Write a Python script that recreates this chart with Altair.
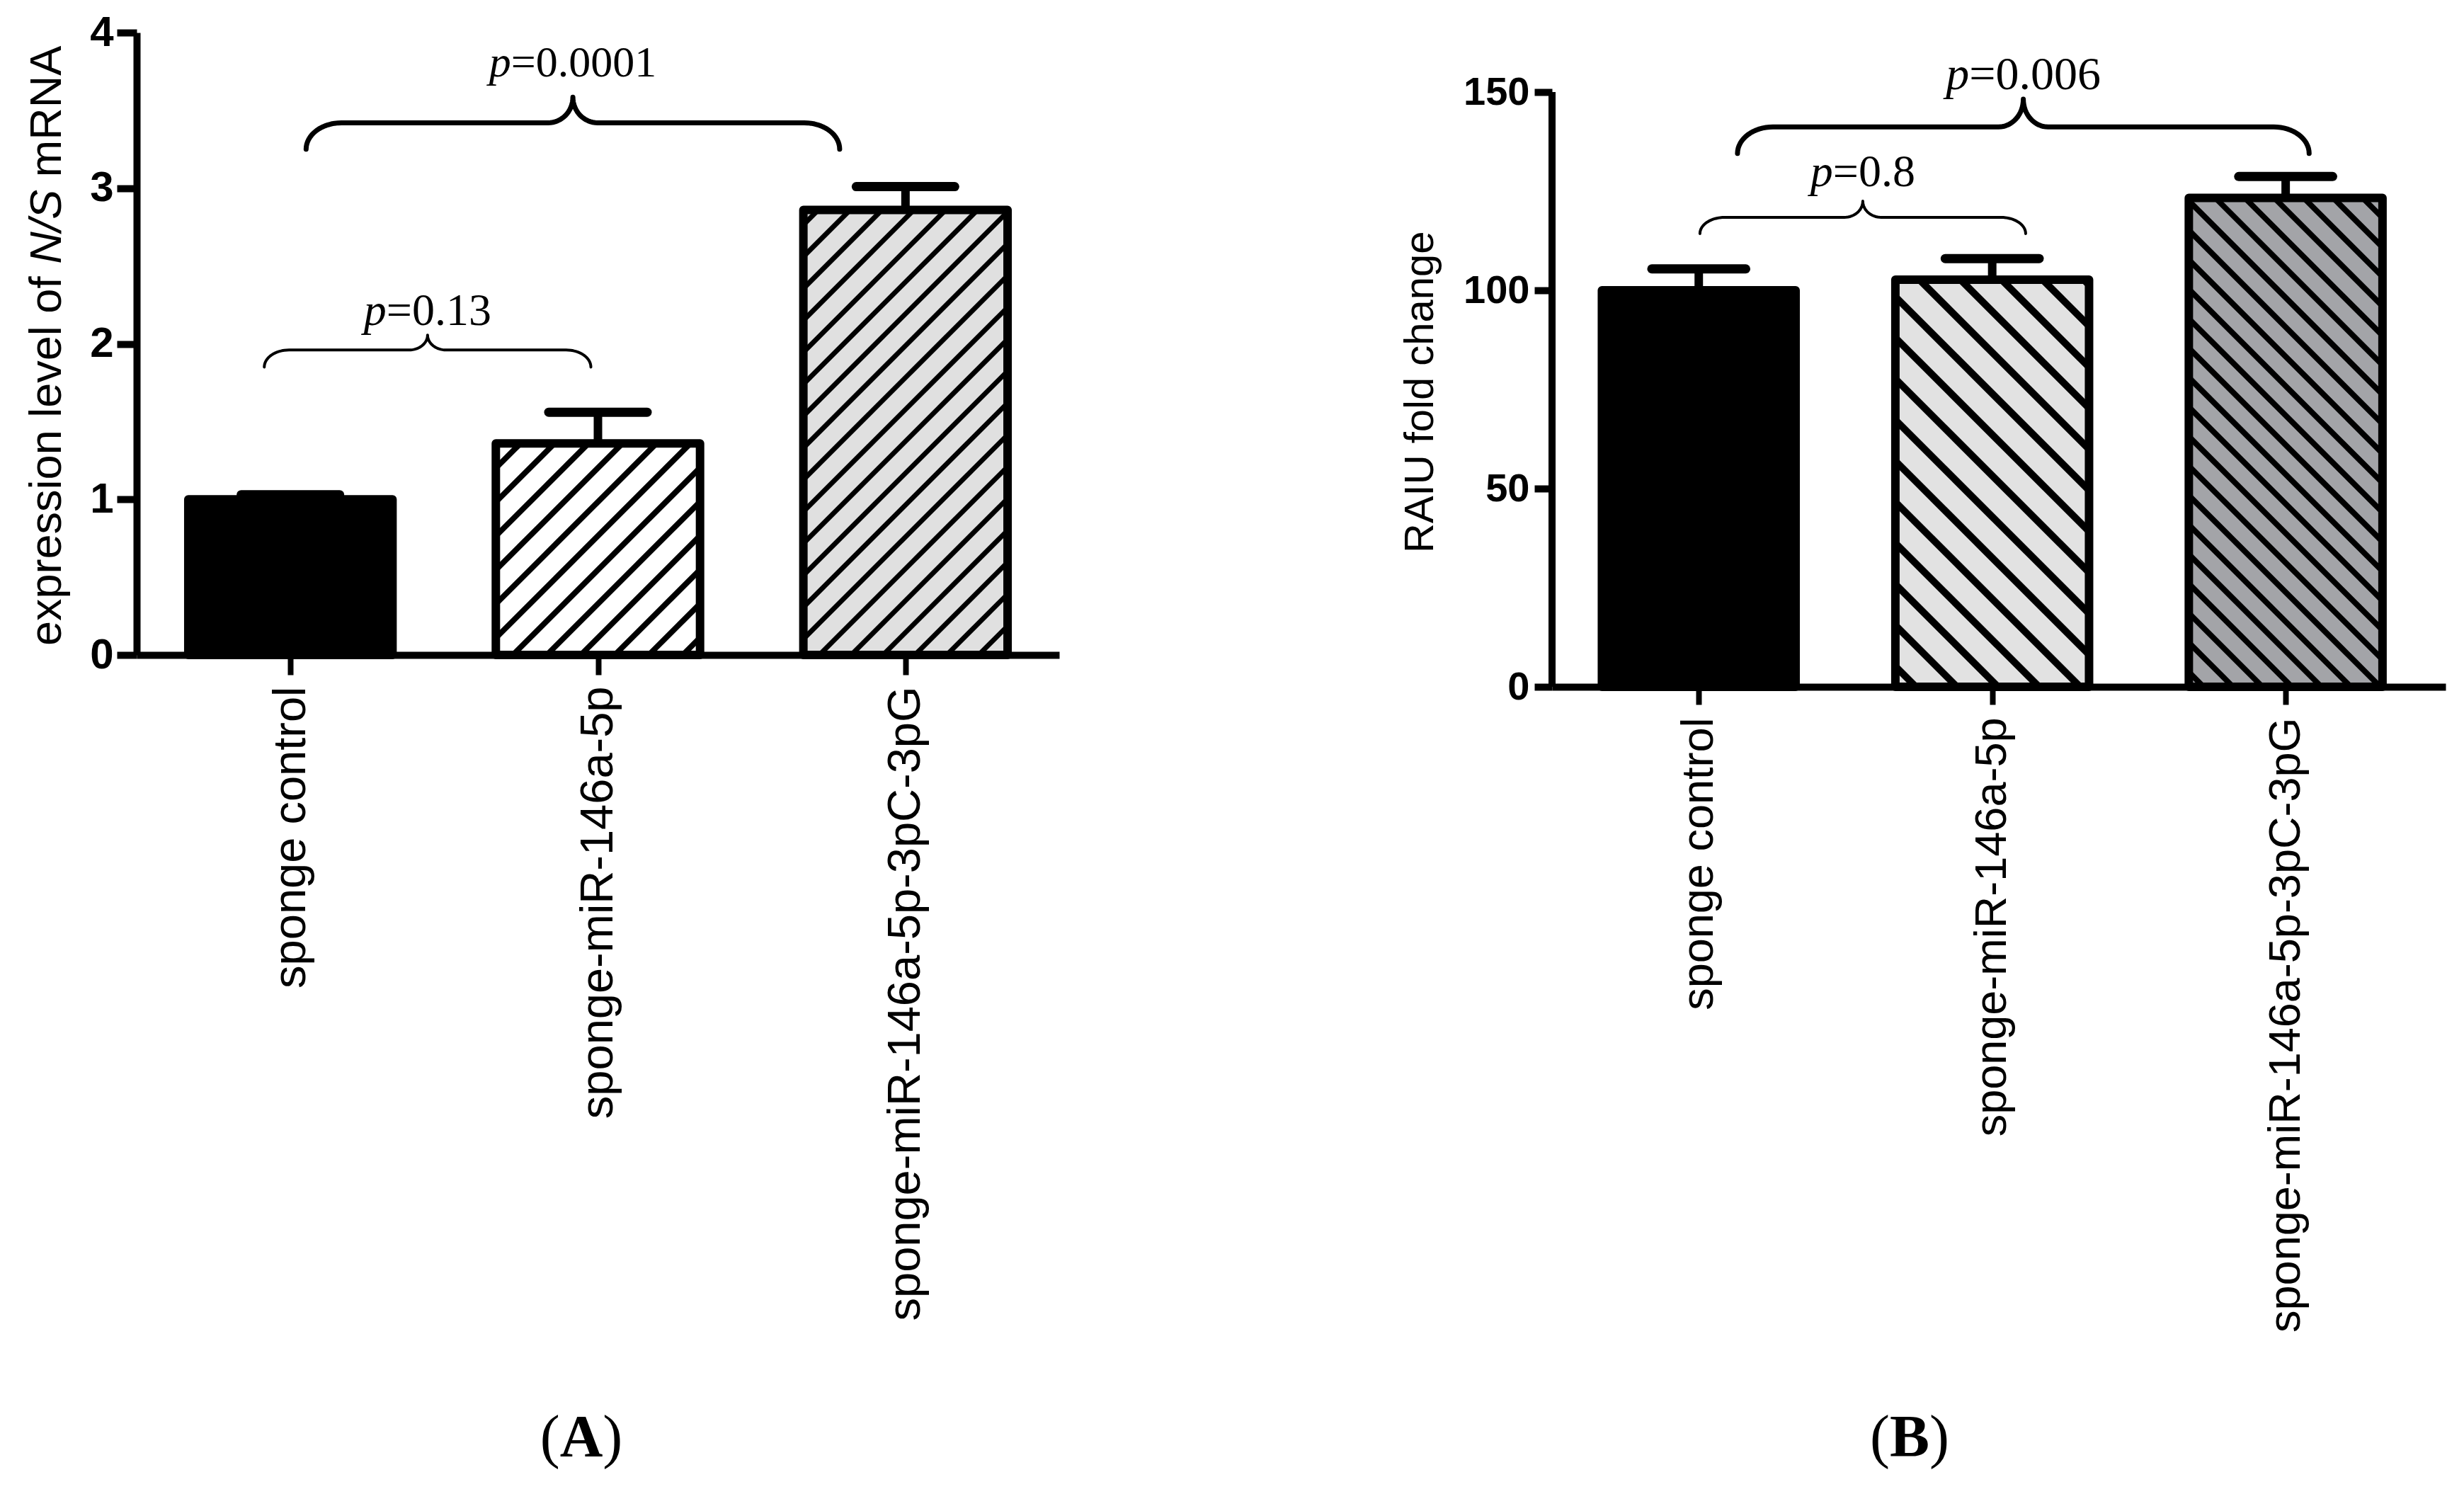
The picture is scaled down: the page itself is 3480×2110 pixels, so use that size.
import math
import altair as alt
import pandas as pd

# ---------------- data ----------------
categories = ["sponge control", "sponge-miR-146a-5p", "sponge-miR-146a-5p-3pC-3pG"]
nis_mean = [1.00, 1.36, 2.86]
nis_err = [0.03, 0.20, 0.15]
raiu_mean = [100.0, 102.7, 123.3]
raiu_err = [5.4, 5.3, 5.4]
nis_ticks = [0, 1, 2, 3, 4]
raiu_ticks = [0, 50, 100, 150]
nis_pvalues = ["0.13", "0.0001"]
raiu_pvalues = ["0.8", "0.006"]
panel_letters = ["A", "B"]
nis_title = ["expression level of", "N/S", "mRNA"]
raiu_title = ["RAIU fold change"]

# ---------------- layout / style ----------------
SANS = "Liberation Sans"
SERIF = "Liberation Serif"
ARIAL_W = {" ": 278, "a": 556, "c": 500, "d": 556, "e": 556, "f": 278, "g": 556, "h": 556,
           "i": 222, "l": 222, "m": 833, "n": 556, "o": 556, "p": 556, "r": 333, "s": 500,
           "v": 500, "x": 500, "A": 667, "I": 278, "N": 722, "R": 722, "S": 667, "U": 722,
           "/": 278}
TIMES_W = {"p": 500, "=": 564, ".": 250, "(": 333, ")": 333}
TIMES_BOLD_W = {"A": 722, "B": 667}


def width(text, table, fs, default=500):
    return sum(table.get(ch, default) for ch in text) * fs / 1000.0


PANEL_A = dict(
    width=1303, height=879, xdom=[-0.5, 2.5], ydom=[0, 4], axis_top=None,
    half=0.332, cap=0.16,
    fills=["#000000", "#ffffff", "#e0e0e0"],
    hatch=[None, ("/", 48, 8), ("/", 45, 7)],
    xtick=28, xlabel_fs=65, xlabel_pad=16,
    ytick=28, ylabel_fs=60, ylabel_pad=5,
    braces=[dict(x1=-0.085, x2=0.977, yT=1.85, yH=1.96, yC=2.056, rxe=35, rxm=26, w=4, ty=2.12, fs=64),
            dict(x1=0.051, x2=1.786, yT=3.25, yH=3.42, yC=3.585, rxe=50, rxm=35, w=7, ty=3.72, fs=62)],
    caption=(628, 2011, 84),
    title=dict(parts=nis_title, styles=["normal", "italic", "normal"], fs=63, x=-126, y=866),
)
PANEL_B = dict(
    width=1262, height=924, xdom=[-0.5, 2.545], ydom=[0, 165], axis_top=150,
    half=0.33, cap=0.16,
    fills=["#000000", "#e2e2e2", "#a3a4a8"],
    hatch=[None, ("\\", 58, 10), ("\\", 41.6, 8)],
    xtick=25, xlabel_fs=63, xlabel_pad=18,
    ytick=25, ylabel_fs=56, ylabel_pad=7,
    braces=[dict(x1=0.004, x2=1.114, yT=114.3, yH=118.4, yC=122.5, rxe=35, rxm=26, w=4, ty=126.3, fs=64),
            dict(x1=0.132, x2=2.08, yT=134.5, yH=141.2, yC=148.2, rxe=50, rxm=35, w=7, ty=150.7, fs=66)],
    caption=(505, 2011, 84),
    title=dict(parts=raiu_title, styles=["normal"], fs=58, x=-185, y=735),
)


def hatch_rows(means, P, sx, sy):
    xmin = P["xdom"][0]
    rows = []
    for i, (v, h) in enumerate(zip(means, P["hatch"])):
        if h is None:
            continue
        d, s, w = h
        A = (i - P["half"] - xmin) * sx
        B = (i + P["half"] - xmin) * sx
        V = v * sy
        if d == "/":
            t = s / 2 - s * math.ceil((B - A) / s)
            while t < V:
                c = t - A
                X1, X2 = max(A, -c), min(B, V - c)
                if X2 - X1 > 1:
                    rows.append(dict(x=X1 / sx + xmin, y=(X1 + c) / sy,
                                     x2=X2 / sx + xmin, y2=(X2 + c) / sy, w=w))
                t += s
        else:
            t = s / 2
            while t < V + (B - A):
                c = A + t
                X1, X2 = max(A, c - V), min(B, c)
                if X2 - X1 > 1:
                    rows.append(dict(x=X1 / sx + xmin, y=(c - X1) / sy,
                                     x2=X2 / sx + xmin, y2=(c - X2) / sy, w=w))
                t += s
    return pd.DataFrame(rows)


def brace_rows(b, bid, P, sx, sy, n=16):
    xmin = P["xdom"][0]
    L = (b["x1"] - xmin) * sx
    R = (b["x2"] - xmin) * sx
    C = (L + R) / 2
    YT, YH, YC = b["yT"] * sy, b["yH"] * sy, b["yC"] * sy
    pts = []

    def arc(cx, cy, rx, ry, a0, a1):
        for j in range(n + 1):
            a = a0 + (a1 - a0) * j / n
            pts.append((cx + rx * math.cos(a), cy + ry * math.sin(a)))

    arc(L + b["rxe"], YT, b["rxe"], YH - YT, math.pi, math.pi / 2)
    arc(C - b["rxm"], YC, b["rxm"], YC - YH, -math.pi / 2, 0)
    arc(C + b["rxm"], YC, b["rxm"], YC - YH, math.pi, 1.5 * math.pi)
    arc(R - b["rxe"], YT, b["rxe"], YH - YT, math.pi / 2, 0)
    return [dict(b=bid, k=k, x=X / sx + xmin, y=Y / sy, w=b["w"]) for k, (X, Y) in enumerate(pts)]


def text_piece(text, x, y, fs, font, style="normal", weight="normal", align="center",
               baseline="alphabetic", angle=0, dx=0):
    return alt.Chart(pd.DataFrame({"t": [text]})).mark_text(
        font=font, fontSize=fs, fontStyle=style, fontWeight=weight, align=align,
        baseline=baseline, angle=angle, dx=dx, color="black"
    ).encode(text="t:N", x=alt.value(x), y=alt.value(y))


def panel(means, errs, P, ticks, pvalues, letter):
    xmin, xmax = P["xdom"]
    sx = P["width"] / (xmax - xmin)
    sy = P["height"] / (P["ydom"][1] - P["ydom"][0])
    df = pd.DataFrame({"cat": categories, "idx": list(range(len(categories))),
                       "mean": means, "err": errs})
    df["zero"] = 0.0
    df["x1"] = df["idx"] - P["half"]
    df["x2"] = df["idx"] + P["half"]
    df["top"] = df["mean"] + df["err"]
    df["c1"] = df["idx"] - P["cap"]
    df["c2"] = df["idx"] + P["cap"]

    xs = alt.Scale(domain=P["xdom"], nice=False, zero=False)
    ys = alt.Scale(domain=P["ydom"], nice=False, zero=False)
    label_expr = "[" + ",".join("'" + c + "'" for c in categories) + "][datum.value]"
    xaxis = alt.Axis(values=list(range(len(categories))), labelExpr=label_expr, title=None,
                     grid=False, domainWidth=10, domainColor="black", tickColor="black",
                     tickWidth=8, tickSize=P["xtick"], labelAngle=270, labelAlign="right",
                     labelBaseline="middle", labelFont=SANS, labelFontSize=P["xlabel_fs"],
                     labelPadding=P["xlabel_pad"], labelColor="black", labelOverlap=False,
                     labelLimit=2000)
    yaxis_kw = dict(values=ticks, format="d", grid=False, domainWidth=10, domainColor="black",
                    tickColor="black", tickWidth=10, tickSize=P["ytick"], labelFont=SANS,
                    labelFontWeight="bold", labelFontSize=P["ylabel_fs"],
                    labelPadding=P["ylabel_pad"], labelColor="black", title=None)
    if P["axis_top"] is not None:
        yaxis_kw["domain"] = False
    yaxis = alt.Axis(**yaxis_kw)

    base = alt.Chart(df)
    fill = base.mark_rect(strokeWidth=0).encode(
        x=alt.X("x1:Q", scale=xs, axis=xaxis),
        x2="x2:Q",
        y=alt.Y("zero:Q", scale=ys, axis=yaxis),
        y2="mean:Q",
        color=alt.Color("cat:N", scale=alt.Scale(domain=categories, range=P["fills"]), legend=None),
    )
    layers = [fill]

    hdf = hatch_rows(means, P, sx, sy)
    layers.append(alt.Chart(hdf).mark_rule(color="black", strokeCap="butt").encode(
        x=alt.X("x:Q", scale=xs, title=None), x2="x2:Q",
        y=alt.Y("y:Q", scale=ys, title=None), y2="y2:Q",
        strokeWidth=alt.StrokeWidth("w:Q", scale=None)))

    layers.append(base.mark_rect(fillOpacity=0, stroke="black", strokeWidth=12, strokeJoin="round").encode(
        x=alt.X("x1:Q", scale=xs, title=None), x2="x2:Q",
        y=alt.Y("zero:Q", scale=ys, title=None), y2="mean:Q"))

    layers.append(base.mark_rule(color="black", strokeWidth=12).encode(
        x=alt.X("idx:Q", scale=xs, title=None),
        y=alt.Y("mean:Q", scale=ys, title=None), y2="top:Q"))
    layers.append(base.mark_rule(color="black", strokeWidth=13, strokeCap="round").encode(
        x=alt.X("c1:Q", scale=xs, title=None), x2="c2:Q",
        y=alt.Y("top:Q", scale=ys, title=None)))

    if P["axis_top"] is not None:
        ax = pd.DataFrame({"x": [xmin], "y0": [0.0], "y1": [float(P["axis_top"])]})
        layers.append(alt.Chart(ax).mark_rule(color="black", strokeWidth=10).encode(
            x=alt.X("x:Q", scale=xs, title=None),
            y=alt.Y("y0:Q", scale=ys, title=None), y2="y1:Q"))

    brows = []
    for bid, b in enumerate(P["braces"]):
        brows += brace_rows(b, bid, P, sx, sy)
    layers.append(alt.Chart(pd.DataFrame(brows)).mark_line(color="black", strokeCap="round",
                                                            strokeJoin="round").encode(
        x=alt.X("x:Q", scale=xs, title=None), y=alt.Y("y:Q", scale=ys, title=None),
        detail="b:N", order="k:Q", strokeWidth=alt.StrokeWidth("w:Q", scale=None)))

    prow = []
    for b, pv in zip(P["braces"], pvalues):
        rest = "=" + pv
        fs = b["fs"]
        W = width("p" + rest, TIMES_W, fs)
        cx = (b["x1"] + b["x2"]) / 2
        J = cx + (-W / 2 + TIMES_W["p"] * fs / 1000.0) / sx
        prow.append(dict(j=J, y=b["ty"], p="p", rest=rest, fs=fs))
    pdf = pd.DataFrame(prow)
    layers.append(alt.Chart(pdf).mark_text(font=SERIF, fontStyle="italic", align="right",
                                           baseline="alphabetic", color="black").encode(
        x=alt.X("j:Q", scale=xs, title=None), y=alt.Y("y:Q", scale=ys, title=None),
        text="p:N", size=alt.Size("fs:Q", scale=None)))
    layers.append(alt.Chart(pdf).mark_text(font=SERIF, align="left",
                                           baseline="alphabetic", color="black").encode(
        x=alt.X("j:Q", scale=xs, title=None), y=alt.Y("y:Q", scale=ys, title=None),
        text="rest:N", size=alt.Size("fs:Q", scale=None)))

    # panel caption "(A)" / "(B)": bold letter, regular parentheses
    cxp, cyp, cfs = P["caption"]
    hw = TIMES_BOLD_W.get(letter, 700) * cfs / 2000.0
    layers.append(text_piece("(", cxp - hw, cyp, cfs, SERIF, align="right"))
    layers.append(text_piece(letter, cxp, cyp, cfs, SERIF, weight="bold", align="center"))
    layers.append(text_piece(")", cxp + hw, cyp, cfs, SERIF, align="left"))

    # y-axis title built from pieces (reads bottom to top)
    T = P["title"]
    gap = ARIAL_W[" "] * T["fs"] / 1000.0
    off = 0.0
    for part, st in zip(T["parts"], T["styles"]):
        layers.append(text_piece(part, T["x"], T["y"], T["fs"], SANS, style=st, align="left",
                                 baseline="middle", angle=270, dx=off))
        off += width(part, ARIAL_W, T["fs"]) + gap

    return alt.layer(*layers).properties(
        width=P["width"], height=P["height"],
        view=alt.ViewBackground(stroke="transparent", strokeWidth=0))


left = panel(nis_mean, nis_err, PANEL_A, nis_ticks, nis_pvalues, panel_letters[0])
right = panel(raiu_mean, raiu_err, PANEL_B, raiu_ticks, raiu_pvalues, panel_letters[1])

chart = alt.hconcat(left, right, spacing=696, bounds="flush").resolve_scale(
    color="independent", strokeWidth="independent", size="independent"
).properties(
    padding={"left": 27, "top": 8, "right": 10, "bottom": 10}
).configure_view(strokeWidth=0, stroke="transparent").configure(background="white")

chart.save("out.html", embed_options={"renderer": "svg", "actions": False})
